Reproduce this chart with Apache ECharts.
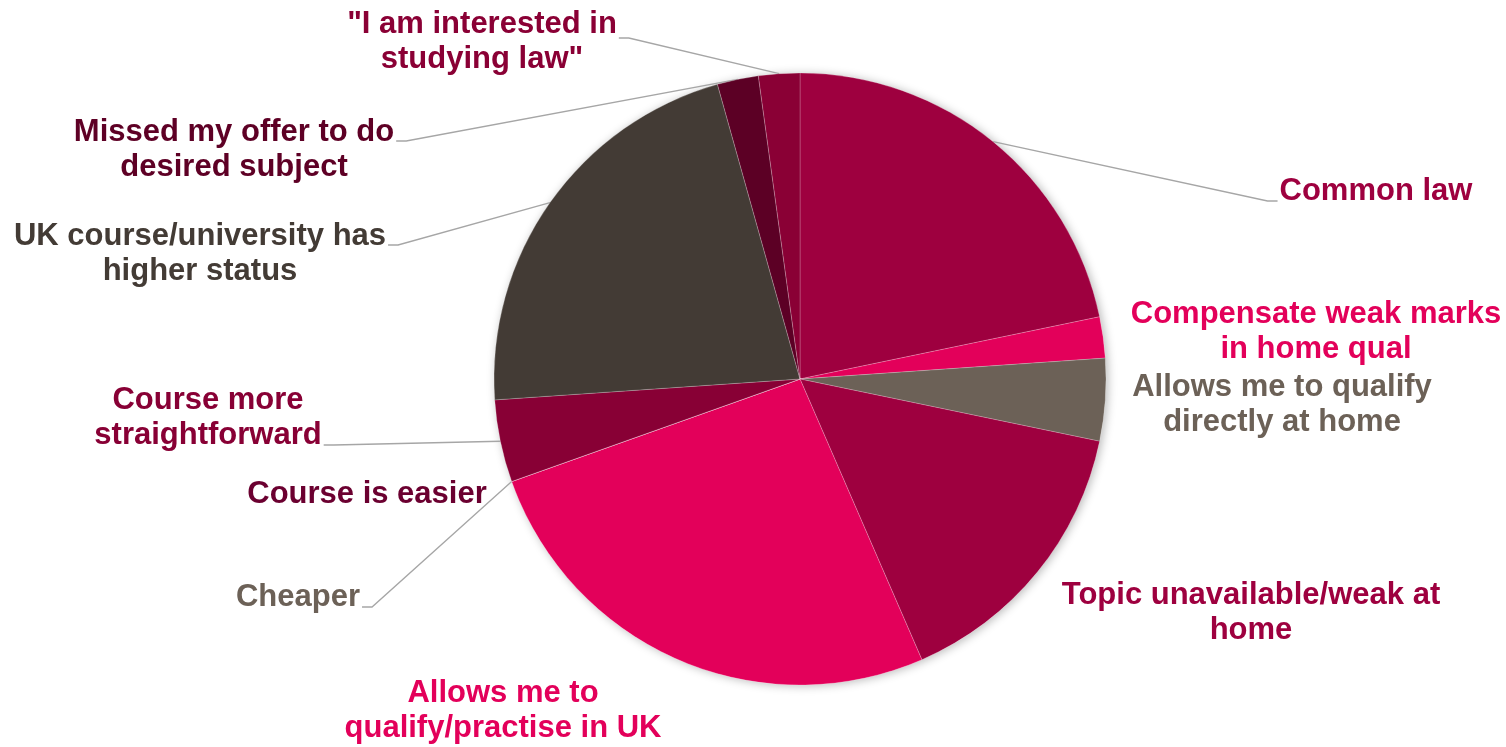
<!DOCTYPE html>
<html>
<head>
<meta charset="utf-8">
<script src="https://cdn.jsdelivr.net/npm/echarts@6/dist/echarts.min.js"></script>
<style>
  html, body { margin: 0; padding: 0; background: #ffffff; }
  #chart { width: 1506px; height: 747px; }
</style>
</head>
<body>
<div id="chart"></div>
<script>
// Reasons for choosing the course (number of respondents), clockwise from 12 o'clock
const reasons = [
  'Common law',
  'Compensate weak marks\nin home qual',
  'Allows me to qualify\ndirectly at home',
  'Topic unavailable/weak at\nhome',
  'Allows me to\nqualify/practise in UK',
  'Cheaper',
  'Course is easier',
  'Course more\nstraightforward',
  'UK course/university has\nhigher status',
  'Missed my offer to do\ndesired subject',
  '"I am interested in\nstudying law"'
];
const counts = [10, 1, 2, 7, 12, 0, 0, 2, 10, 1, 1];

const sliceColors = ['#9e003f', '#e3005a', '#6c6157', '#9e003f', '#e3005a', '#6c6157',
                     '#6b0030', '#880035', '#433b35', '#5c0025', '#8a0035'];
const labelColors = ['#9e003f', '#e3005a', '#6c6157', '#9e003f', '#e3005a', '#6c6157',
                     '#6b0030', '#880035', '#433b35', '#5e0025', '#8a0035'];
const showLeader = [true, false, false, false, false, true, false, true, true, true, true];

// Where each label block sits (centre of the text block)
const labelSpots = [
  [1376, 191], [1316, 332], [1282, 405], [1251, 613], [503, 711], [298, 597],
  [367, 494], [208, 418], [200, 254], [234, 150], [482, 42]
];
// Vertical offset (from the block centre) where a leader line meets its label
const leaderAttach = [10, 0, 0, 0, 0, 10, 0, 27, -9, -9, -4];

const chart = echarts.init(document.getElementById('chart'), null, { renderer: 'canvas' });

const pieCenter = [800, 379];
const pieRadius = 306;

chart.setOption({
  backgroundColor: '#ffffff',
  animation: false,
  series: [
    {
      // soft drop shadow behind the whole pie
      type: 'pie',
      silent: true,
      center: pieCenter,
      radius: pieRadius,
      label: { show: false },
      labelLine: { show: false },
      itemStyle: {
        color: '#ffffff',
        shadowBlur: 10,
        shadowColor: 'rgba(0,0,0,0.28)',
        shadowOffsetX: 2,
        shadowOffsetY: 1
      },
      data: [{ value: 1, name: '' }],
      z: 1
    },
    {
      type: 'pie',
      center: pieCenter,
      radius: pieRadius,
      startAngle: 90,
      clockwise: true,
      avoidLabelOverlap: false,
      minShowLabelAngle: 0,
      itemStyle: { borderColor: 'rgba(255,255,255,0.35)', borderWidth: 0.6 },
      label: {
        show: true,
        fontFamily: 'Liberation Sans, Arial, sans-serif',
        fontWeight: 'bold',
        fontSize: 31,
        lineHeight: 35,
        align: 'center',
        formatter: p => p.name
      },
      labelLine: {
        show: true,
        length: 10,
        length2: 10,
        lineStyle: { color: '#a6a6a6', width: 1.3 }
      },
      labelLayout: function (params) {
        const i = params.dataIndex;
        const spot = labelSpots[i];
        const out = {
          x: spot[0],
          y: spot[1],
          align: 'center',
          verticalAlign: 'middle'
        };
        const pts = params.labelLinePoints;
        if (showLeader[i] && pts && pts.length) {
          const anchor = pts[0];
          const halfW = params.labelRect.width / 2;
          const onRight = spot[0] > anchor[0];
          const edgeX = onRight ? spot[0] - halfW - 2 : spot[0] + halfW + 2;
          const ly = spot[1] + leaderAttach[i];
          const elbowX = onRight ? edgeX - 10 : edgeX + 10;
          out.labelLinePoints = [[anchor[0], anchor[1]], [elbowX, ly], [edgeX, ly]];
        }
        return out;
      },
      data: reasons.map((name, i) => ({
        name: name,
        value: counts[i],
        itemStyle: { color: sliceColors[i] },
        label: { color: labelColors[i] },
        labelLine: { show: showLeader[i] }
      })),
      z: 2
    }
  ]
});
</script>
</body>
</html>
